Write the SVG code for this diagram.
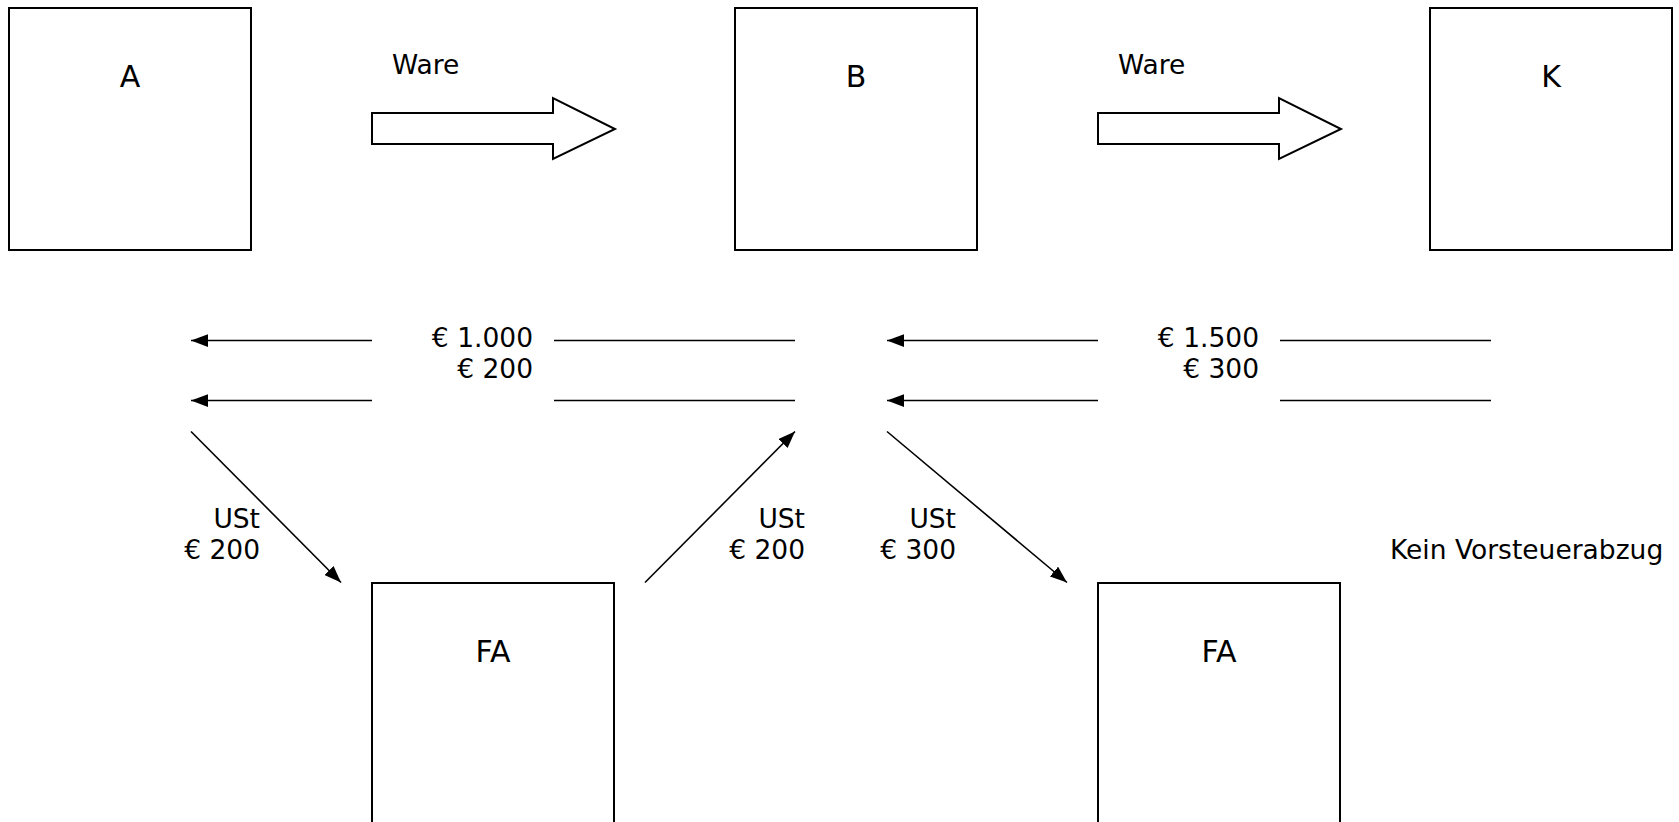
<svg xmlns="http://www.w3.org/2000/svg" width="1679" height="822" viewBox="0 0 1679 822">
<style>
.box{fill:#fff;stroke:#000;stroke-width:2}
.big{font-family:"DejaVu Sans",Verdana,sans-serif;font-size:30px;fill:#000}
.lbl{font-family:"DejaVu Sans",Verdana,sans-serif;font-size:26.5px;fill:#000}
.r{text-anchor:end}
.c{text-anchor:middle}
.ln{stroke:#000;stroke-width:1.6;fill:none}
.fat{fill:#fff;stroke:#000;stroke-width:2}
</style>
<defs>
<marker id="ah" viewBox="0 0 16 12" refX="16" refY="6" markerWidth="17" markerHeight="13" markerUnits="userSpaceOnUse" orient="auto">
<path d="M0,0 L16,6 L0,12 z" fill="#000"/>
</marker>
</defs>
<rect width="1679" height="822" fill="#fff"/>
<g id="node-A"><rect class="box" x="9" y="8" width="242" height="242"/><text class="big c" x="130" y="87">A</text></g>
<g id="node-B"><rect class="box" x="735" y="8" width="242" height="242"/><text class="big c" x="856" y="87">B</text></g>
<g id="node-K"><rect class="box" x="1430" y="8" width="242" height="242"/><text class="big c" x="1551" y="87">K</text></g>
<g id="node-FA1"><rect class="box" x="372" y="583" width="242" height="260"/><text class="big c" x="493" y="662">FA</text></g>
<g id="node-FA2"><rect class="box" x="1098" y="583" width="242" height="260"/><text class="big c" x="1219" y="662">FA</text></g>
<g id="connectors">
<polygon class="fat" points="372,113 553,113 553,98 615,129 553,159 553,144 372,144"/>
<polygon class="fat" points="1098,113 1279,113 1279,98 1341,129 1279,159 1279,144 1098,144"/>
<line class="ln" x1="372" y1="340.5" x2="191" y2="340.5" marker-end="url(#ah)"/>
<line class="ln" x1="554" y1="340.5" x2="795" y2="340.5"/>
<line class="ln" x1="372" y1="400.5" x2="191" y2="400.5" marker-end="url(#ah)"/>
<line class="ln" x1="554" y1="400.5" x2="795" y2="400.5"/>
<line class="ln" x1="1098" y1="340.5" x2="887" y2="340.5" marker-end="url(#ah)"/>
<line class="ln" x1="1280" y1="340.5" x2="1491" y2="340.5"/>
<line class="ln" x1="1098" y1="400.5" x2="887" y2="400.5" marker-end="url(#ah)"/>
<line class="ln" x1="1280" y1="400.5" x2="1491" y2="400.5"/>
<line class="ln" x1="191" y1="431.5" x2="341" y2="582.5" marker-end="url(#ah)"/>
<line class="ln" x1="645" y1="582.5" x2="795" y2="431.5" marker-end="url(#ah)"/>
<line class="ln" x1="887" y1="431.5" x2="1067" y2="582.5" marker-end="url(#ah)"/>
</g>
<g id="labels">
<text class="lbl" x="392" y="74">Ware</text>
<text class="lbl" x="1118" y="74">Ware</text>
<text class="lbl r" x="533" y="347">€ 1.000</text>
<text class="lbl r" x="533" y="378">€ 200</text>
<text class="lbl r" x="1259" y="347">€ 1.500</text>
<text class="lbl r" x="1259" y="378">€ 300</text>
<text class="lbl r" x="260" y="528">USt</text>
<text class="lbl r" x="260" y="559">€ 200</text>
<text class="lbl r" x="805" y="528">USt</text>
<text class="lbl r" x="805" y="559">€ 200</text>
<text class="lbl r" x="956" y="528">USt</text>
<text class="lbl r" x="956" y="559">€ 300</text>
<text class="lbl" x="1390" y="559">Kein Vorsteuerabzug</text>
</g>
</svg>
